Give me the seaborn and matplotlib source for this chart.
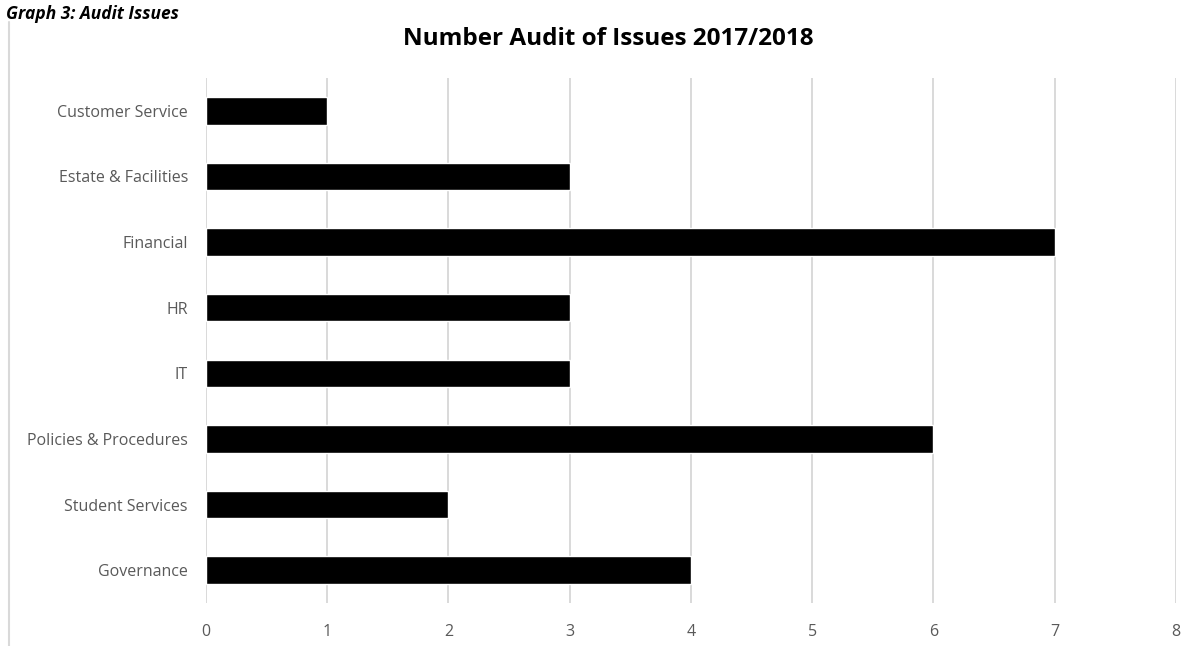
import pandas as pd
import matplotlib.pyplot as plt
import seaborn as sns
from matplotlib.lines import Line2D

# Audit issue counts by area
categories = ['Customer Service', 'Estate & Facilities', 'Financial', 'HR', 'IT',
              'Policies & Procedures', 'Student Services', 'Governance']
issues = [1, 3, 7, 3, 3, 6, 2, 4]
x_ticks = [0, 1, 2, 3, 4, 5, 6, 7, 8]

df = pd.DataFrame({'Area': categories, 'Issues': issues})

sns.set_style('white')
plt.rcParams['font.family'] = ['Open Sans', 'DejaVu Sans']

fig = plt.figure(figsize=(12.04, 6.46), dpi=100)
ax = fig.add_axes([0.1711, 0.0665, 0.8056, 0.8128])

sns.barplot(data=df, x='Issues', y='Area', orient='h', color='black',
            width=0.42, saturation=1, ax=ax)

ax.set_xlim(0, 8)
ax.set_ylim(7.5, -0.5)
ax.set_xticks(x_ticks)
ax.xaxis.grid(True, color='#d9d9d9', linewidth=1.4)
ax.set_axisbelow(True)
for s in ax.spines.values():
    s.set_visible(False)
ax.tick_params(axis='both', length=0, labelsize=11.5, labelcolor='#595959')
ax.tick_params(axis='x', pad=15)
ax.tick_params(axis='y', pad=13)
ax.set_xlabel('')
ax.set_ylabel('')

fig.text(0.505, 0.939, 'Number Audit of Issues 2017/2018', ha='center', va='center',
         fontsize=17.5, fontweight='bold', color='black')
fig.text(0.005, 0.979, 'Graph 3: Audit Issues', ha='left', va='center',
         fontsize=12.5, fontweight='bold', fontstyle='italic', color='black')
fig.add_artist(Line2D([0.0075, 0.0075], [0, 0.966], color='#d9d9d9', linewidth=1.5,
                      transform=fig.transFigure))

fig.savefig('out.png', dpi=100)
